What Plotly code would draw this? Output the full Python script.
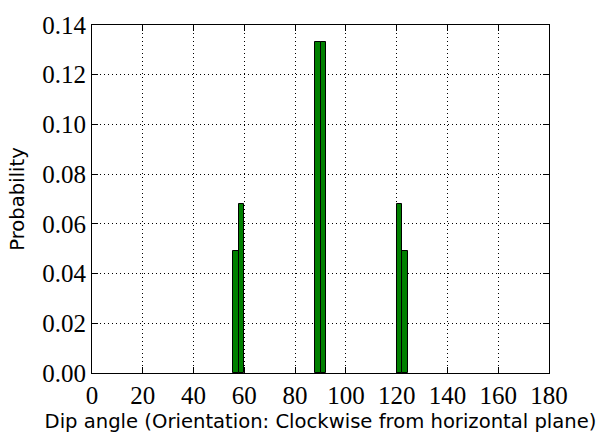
import plotly.graph_objects as go

# Histogram bins (left edges) and probabilities
bin_left = [55.6, 57.75, 87.85, 90.0, 120.1, 122.25]
bin_width = 2.15
probability = [0.049, 0.068, 0.133, 0.133, 0.068, 0.049]

x_ticks = [0, 20, 40, 60, 80, 100, 120, 140, 160, 180]
y_ticks = [0.00, 0.02, 0.04, 0.06, 0.08, 0.10, 0.12, 0.14]
y_tick_text = ["%.2f" % v for v in y_ticks]

centers = [b + bin_width / 2 for b in bin_left]

fig = go.Figure()
fig.add_trace(go.Bar(
    x=centers, y=probability, width=[bin_width] * len(centers),
    marker=dict(color="#008000", line=dict(color="black", width=1)),
    showlegend=False,
))

serif = "Liberation Serif, DejaVu Serif, serif"
sans = "DejaVu Sans, Liberation Sans, sans-serif"

fig.update_layout(
    width=605, height=442,
    margin=dict(l=92, r=56, t=15, b=69),
    paper_bgcolor="white", plot_bgcolor="white",
    bargap=0,
    xaxis=dict(
        range=[0, 180], tickvals=x_ticks, ticktext=[str(v) for v in x_ticks],
        ticks="inside", ticklen=6, tickcolor="black", tickwidth=1,
        showline=True, linecolor="black", linewidth=1, mirror="allticks",
        showgrid=True, gridcolor="black", gridwidth=1, griddash="1px,3px",
        zeroline=False,
        tickfont=dict(family=serif, size=25, color="black"),
        title=dict(text="Dip angle (Orientation: Clockwise from horizontal plane)",
                   font=dict(family=sans, size=19.6, color="black"), standoff=6),
    ),
    yaxis=dict(
        range=[0, 0.14], tickvals=y_ticks, ticktext=y_tick_text,
        ticks="inside", ticklen=6, tickcolor="black", tickwidth=1,
        showline=True, linecolor="black", linewidth=1, mirror="allticks",
        showgrid=True, gridcolor="black", gridwidth=1, griddash="1px,3px",
        zeroline=False,
        tickfont=dict(family=serif, size=25, color="black"),
        title=dict(text="Probability",
                   font=dict(family=sans, size=19.6, color="black"), standoff=12),
    ),
)

fig.write_html("out.html")
